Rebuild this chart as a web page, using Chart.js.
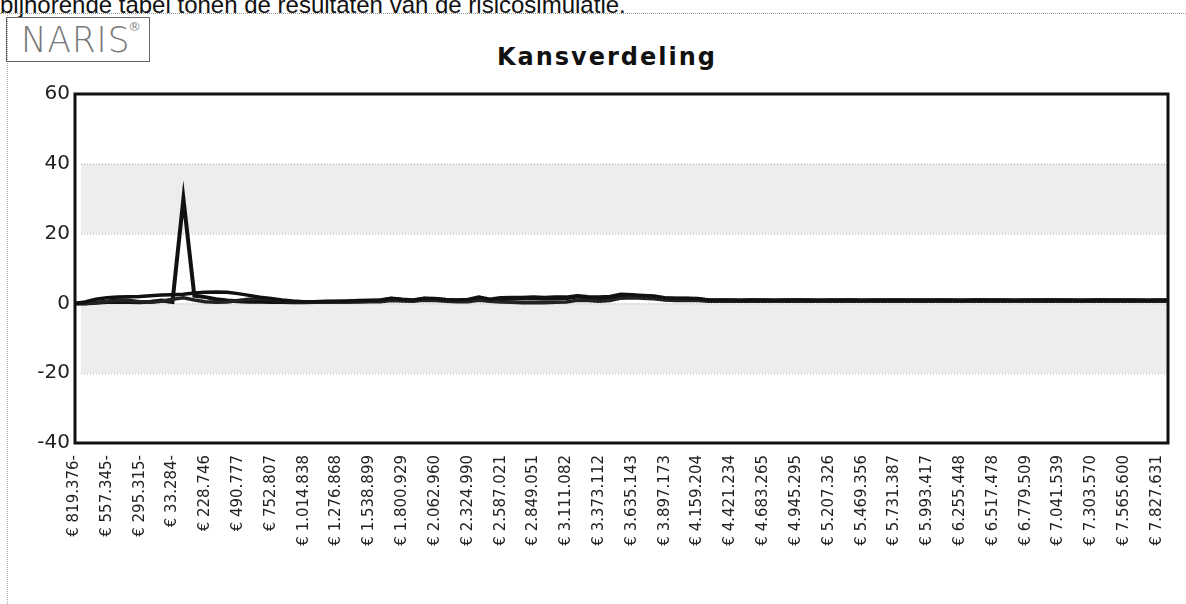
<!DOCTYPE html>
<html>
<head>
<meta charset="utf-8">
<script src="https://cdn.jsdelivr.net/npm/chart.js@4.4.1/dist/chart.umd.min.js"></script>
<style>
  html, body { margin: 0; padding: 0; background: #fff; }
  body { width: 1186px; height: 604px; position: relative; overflow: hidden; }
  #topline {
    position: absolute; left: 0; top: -7px; line-height: 24px;
    font-family: "Liberation Sans", Arial, sans-serif; font-size: 24px; color: #111;
    white-space: nowrap;
  }
  #rule { position: absolute; left: 0; right: 0; top: 13px; border-top: 1px dotted #999; }
  #vrule { position: absolute; left: 7px; top: 15px; bottom: 0; border-left: 1px dotted #aaa; }
  #logo {
    position: absolute; left: 6px; top: 17px; width: 144px; height: 45px;
    border: 1px solid #666; box-sizing: border-box;
  }
  #logo span.name {
    position: absolute; left: 14px; top: 1px;
    font-family: "DejaVu Sans", sans-serif; font-weight: 200; font-size: 36px;
    letter-spacing: 1px; color: #777; transform: scaleX(0.95); transform-origin: left top;
  }
  #logo span.reg {
    position: absolute; left: 121px; top: 1px; font-family: "DejaVu Sans"; font-size: 13px; color: #888;
  }
  #title {
    position: absolute; left: 0; width: 1214px; top: 43px; text-align: center;
    font-family: "DejaVu Sans", sans-serif; font-weight: bold; font-size: 24px;
    letter-spacing: 2px; color: #111;
  }
  canvas { position: absolute; left: 0; top: 0; }
</style>
</head>
<body>
<div id="topline">bijhorende tabel tonen de resultaten van de risicosimulatie.</div>
<div id="rule"></div>
<div id="vrule"></div>
<div id="logo"><span class="name">NARIS</span><span class="reg">®</span></div>
<div id="title">Kansverdeling</div>
<canvas id="chart" width="1186" height="604"></canvas>
<script>
// tick labels, one for every third point
const tickLabels = [
  '€ 819.376-', '€ 557.345-', '€ 295.315-', '€ 33.284-', '€ 228.746', '€ 490.777',
  '€ 752.807', '€ 1.014.838', '€ 1.276.868', '€ 1.538.899', '€ 1.800.929', '€ 2.062.960',
  '€ 2.324.990', '€ 2.587.021', '€ 2.849.051', '€ 3.111.082', '€ 3.373.112', '€ 3.635.143',
  '€ 3.897.173', '€ 4.159.204', '€ 4.421.234', '€ 4.683.265', '€ 4.945.295', '€ 5.207.326',
  '€ 5.469.356', '€ 5.731.387', '€ 5.993.417', '€ 6.255.448', '€ 6.517.478', '€ 6.779.509',
  '€ 7.041.539', '€ 7.303.570', '€ 7.565.600', '€ 7.827.631'
];

const yTicks = [-40, -20, 0, 20, 40, 60];
const bands = [[20, 40], [-20, 0]];

// series (101 points each)
const seriesSpike = [
  0, 0, 0.2, 0.4, 0.5, 0.4, 0.3, 0.5, 0.8, 0.4,
  30, 2.2, 1.8, 1.2, 0.8, 0.6, 0.5, 0.5, 0.4, 0.4,
  0.3, 0.3, 0.4, 0.4, 0.5, 0.5, 0.6, 0.7, 0.8, 1.3,
  1.0, 0.8, 1.3, 1.2, 0.9, 0.8, 0.8, 1.6, 0.9, 1.2,
  1.3, 1.4, 1.4, 1.3, 1.4, 1.5, 2.0, 1.6, 1.4, 1.5,
  2.3, 2.2, 2.0, 1.8, 1.4, 1.3, 1.3, 1.2, 0.9, 0.8,
  0.8, 0.8, 0.9, 0.8, 0.8, 0.8, 0.9, 0.8, 0.8, 0.8,
  0.8, 0.9, 0.8, 0.8, 0.8, 0.8, 0.8, 0.9, 0.8, 0.8,
  0.8, 0.8, 0.8, 0.9, 0.8, 0.8, 0.8, 0.8, 0.8, 0.9,
  0.8, 0.8, 0.8, 0.8, 0.9, 0.8, 0.8, 0.8, 0.8, 0.8,
  0.8
];
const seriesUpper = [
  0, 0.4, 1.2, 1.6, 1.8, 1.9, 2.0, 2.2, 2.4, 2.5,
  2.6, 3.0, 3.2, 3.3, 3.2, 2.8, 2.3, 1.8, 1.4, 1.0,
  0.7, 0.5, 0.5, 0.6, 0.6, 0.7, 0.8, 0.9, 1.0, 1.5,
  1.2, 1.0, 1.5, 1.4, 1.1, 1.0, 1.1, 1.8, 1.2, 1.6,
  1.7, 1.7, 1.8, 1.7, 1.8, 1.8, 2.2, 1.9, 1.8, 2.0,
  2.6, 2.5, 2.3, 2.1, 1.6, 1.5, 1.5, 1.4, 1.0, 1.0,
  1.0, 0.9, 1.0, 1.0, 0.9, 1.0, 1.0, 1.0, 0.9, 1.0,
  1.0, 1.0, 0.9, 1.0, 1.0, 1.0, 1.0, 0.9, 1.0, 1.0,
  1.0, 0.9, 1.0, 1.0, 1.0, 1.0, 0.9, 1.0, 1.0, 1.0,
  1.0, 1.0, 0.9, 1.0, 1.0, 1.0, 1.0, 1.0, 0.9, 1.0,
  1.0
];
const seriesLower = [
  0, 0, 0.2, 0.6, 1.0, 0.9, 0.5, 0.3, 0.6, 1.2,
  1.6, 1.0, 0.5, 0.3, 0.4, 0.8, 1.2, 1.4, 1.2, 0.8,
  0.5, 0.3, 0.3, 0.3, 0.4, 0.4, 0.4, 0.5, 0.5, 0.8,
  0.7, 0.6, 0.9, 0.8, 0.6, 0.5, 0.5, 0.9, 0.6, 0.4,
  0.3, 0.2, 0.2, 0.2, 0.3, 0.4, 0.9, 0.8, 0.6, 0.8,
  1.5, 1.6, 1.5, 1.3, 1.0, 0.8, 0.8, 0.8, 0.6, 0.6,
  0.6, 0.6, 0.6, 0.6, 0.6, 0.6, 0.6, 0.6, 0.6, 0.6,
  0.6, 0.6, 0.6, 0.6, 0.6, 0.6, 0.6, 0.6, 0.6, 0.6,
  0.6, 0.6, 0.6, 0.6, 0.6, 0.6, 0.6, 0.6, 0.6, 0.6,
  0.6, 0.6, 0.6, 0.6, 0.6, 0.6, 0.6, 0.6, 0.6, 0.6,
  0.6
];

const toPoints = arr => arr.map((v, i) => ({ x: i, y: v }));

// gray bands + plot border, like the scanned chart
const plotDecor = {
  id: 'plotDecor',
  beforeDatasetsDraw(chart) {
    const { ctx, chartArea: a, scales: { y } } = chart;
    ctx.save();
    bands.forEach(([lo, hi]) => {
      const yTop = y.getPixelForValue(hi);
      const yBot = y.getPixelForValue(lo);
      ctx.fillStyle = '#ededed';
      ctx.fillRect(a.left + 7, yTop, a.right - a.left - 7, yBot - yTop);
      ctx.strokeStyle = '#aaa';
      ctx.lineWidth = 1;
      ctx.setLineDash([1, 2]);
      [yTop, yBot].forEach(py => {
        ctx.beginPath();
        ctx.moveTo(a.left + 7, py + 0.5);
        ctx.lineTo(a.right, py + 0.5);
        ctx.stroke();
      });
      ctx.setLineDash([]);
    });
    ctx.restore();
  },
  afterDraw(chart) {
    const { ctx, chartArea: a } = chart;
    ctx.save();
    ctx.strokeStyle = '#111';
    ctx.lineWidth = 3;
    ctx.strokeRect(a.left + 1, a.top, a.right - a.left - 1, a.bottom - a.top);
    ctx.restore();
  }
};

const lineStyle = {
  borderColor: '#111',
  borderWidth: 3.5,
  pointRadius: 0,
  tension: 0,
  fill: false
};

new Chart(document.getElementById('chart'), {
  type: 'line',
  data: {
    datasets: [
      { ...lineStyle, label: 'a', data: toPoints(seriesUpper) },
      { ...lineStyle, label: 'b', data: toPoints(seriesLower), borderColor: '#222' },
      { ...lineStyle, label: 'c', data: toPoints(seriesSpike), borderWidth: 4 }
    ]
  },
  options: {
    responsive: false,
    animation: false,
    devicePixelRatio: 1,
    layout: { padding: { top: 94, right: 18, left: 0, bottom: 0 } },
    plugins: { legend: { display: false }, tooltip: { enabled: false }, title: { display: false } },
    scales: {
      x: {
        type: 'linear',
        min: 0,
        max: seriesSpike.length - 1,
        grid: { display: false },
        border: { display: false },
        afterBuildTicks: s => { s.ticks = tickLabels.map((_, k) => ({ value: k * 3 })); },
        afterFit: s => { s.height = 161; },
        ticks: {
          autoSkip: false,
          minRotation: 90,
          maxRotation: 90,
          padding: 4,
          color: '#222',
          font: { family: 'DejaVu Sans', size: 15 },
          callback: v => tickLabels[Math.round(v / 3)]
        }
      },
      y: {
        min: -40,
        max: 60,
        grid: { display: false },
        border: { display: false },
        afterBuildTicks: s => { s.ticks = yTicks.map(v => ({ value: v })); },
        afterFit: s => { s.width = 74; },
        ticks: {
          padding: -4,
          color: '#222',
          font: { family: 'DejaVu Sans', size: 20 }
        }
      }
    }
  },
  plugins: [plotDecor]
});
</script>
</body>
</html>
